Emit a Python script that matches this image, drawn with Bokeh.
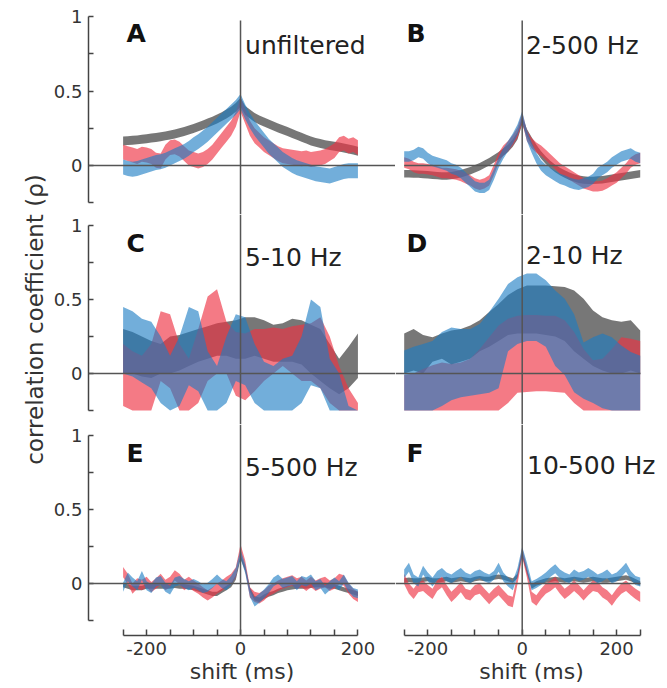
import numpy as np
from bokeh.plotting import figure
from bokeh.layouts import row, column
from bokeh.models import Range1d, Span, Label, FixedTicker, LinearAxis
from bokeh.embed import file_html
from bokeh.resources import INLINE

# ---------------- data ----------------
shift10 = list(range(-250, 251, 10))
shift20 = list(range(-250, 251, 20))

A_gray = [.165, .167, .17, .172, .176, .18, .184, .188, .193, .199,
          .205, .212, .22, .228, .238, .248, .26, .272, .285, .298,
          .312, .328, .345, .365, .39, .425, .37, .345, .322, .305,
          .292, .278, .265, .252, .24, .228, .215, .202, .19, .177,
          .165, .155, .147, .14, .134, .129, .124, .118, .111, .104, .096]
A_red = [.09, .08, .07, .06, .075, .07, .06, .035, .03, .09,
         .12, .125, .11, .08, .05, .04, .03, .04, .06, .09,
         .13, .17, .21, .25, .31, .41, .33, .25, .2, .17,
         .14, .12, .1, .08, .065, .06, .055, .05, .045, .05,
         .04, .045, .05, .06, .08, .1, .14, .15, .13, .14, .12]
A_blue = [-.01, -.02, -.025, -.02, -.01, 0, .01, .02, .025, .035,
          .05, .065, .08, .095, .115, .14, .16, .185, .21, .24,
          .27, .3, .33, .36, .39, .43, .36, .3, .25, .21,
          .17, .13, .1, .07, .04, .02, 0, -.015, -.025, -.035,
          -.045, -.055, -.06, -.065, -.07, -.06, -.05, -.04, -.035, -.035, -.035]
A_sem = {"gray": .03, "red": .05, "blue": .05}

B_gray = [-.055, -.055, -.057, -.058, -.06, -.062, -.065, -.068, -.07, -.07,
          -.068, -.062, -.055, -.045, -.035, -.022, -.008, .008, .025, .045,
          .065, .09, .115, .15, .2, .3, .22, .165, .115, .07,
          .035, .005, -.02, -.04, -.057, -.072, -.083, -.092, -.098, -.1,
          -.1, -.098, -.095, -.09, -.085, -.08, -.075, -.07, -.065, -.06, -.055]
B_red = [.02, .01, -.01, -.02, -.02, -.025, -.03, -.04, -.05, -.05,
         -.055, -.06, -.07, -.085, -.1, -.12, -.13, -.12, -.1, -.03,
         .05, .1, .13, .17, .22, .32, .2, .15, .12, .1,
         .07, .04, .01, -.02, -.04, -.06, -.08, -.1, -.12, -.13,
         -.14, -.14, -.135, -.12, -.1, -.08, -.05, -.02, .02, .04, .05]
B_blue = [.06, .06, .07, .09, .08, .05, .03, .02, .01, 0,
          -.02, -.03, -.05, -.08, -.11, -.14, -.15, -.15, -.13, -.06,
          .02, .08, .13, .18, .24, .33, .2, .12, .05, 0,
          -.03, -.05, -.07, -.09, -.1, -.115, -.125, -.13, -.12, -.11,
          -.09, -.05, -.03, -.01, .02, .04, .06, .07, .08, .06, .05]
B_sem = {"gray": .025, "red": .035, "blue": .035}

C_gray_lo = [0, 0, -.02, -.03, 0, 0, .02, .05, .08, .1, .12, .12, .1, .1, .12, .1, .08, .08, .08, .06, 0, -.05, -.1, -.14, -.1, -.03]
C_gray_hi = [.3, .28, .25, .22, .2, .25, .26, .28, .3, .32, .34, .35, .36, .38, .38, .36, .33, .34, .37, .36, .33, .3, .2, .1, .18, .27]
C_red_lo = [-.22, -.25, -.25, -.25, -.05, -.1, -.25, -.25, -.2, -.05, 0, 0, -.15, -.18, -.12, -.05, 0, .05, 0, -.05, -.05, -.1, -.2, -.25, -.25, -.25]
C_red_hi = [.2, .15, .12, .2, .42, .4, .2, .1, .3, .52, .57, .35, .28, .27, .3, .3, .31, .3, .32, .33, .34, .38, .25, .05, -.1, -.2]
C_blue_lo = [0, -.02, -.06, -.1, -.2, -.25, -.22, -.08, -.12, -.25, -.25, -.2, -.05, -.08, -.2, -.25, -.25, -.25, -.25, -.2, -.08, -.1, -.25, -.25, -.25, -.25]
C_blue_hi = [.45, .42, .37, .35, .25, .12, .25, .45, .42, .15, .05, .25, .4, .38, .2, .08, .05, .1, .12, .25, .5, .45, .1, 0, -.22, -.25]

D_gray_lo = [0, .02, 0, .08, .1, .06, .08, .1, .15, .18, .22, .26, .27, .27, .27, .26, .25, .22, .15, .1, .05, .02, 0, 0, .02, 0]
D_gray_hi = [.27, .3, .26, .245, .27, .29, .3, .325, .36, .415, .47, .53, .57, .595, .595, .595, .59, .585, .56, .505, .425, .38, .36, .35, .36, .29]
D_red_lo = [-.25, -.25, -.25, -.25, -.25, -.25, -.25, -.25, -.25, -.25, -.25, -.2, -.13, -.125, -.12, -.12, -.125, -.13, -.2, -.25, -.25, -.25, -.25, -.25, -.25, -.25]
D_red_hi = [-.01, 0, .03, .055, .075, .065, .075, .1, .165, .245, .325, .37, .39, .395, .395, .39, .39, .36, .28, .165, .09, .1, .165, .245, .235, .22]
D_blue_lo = [-.25, -.25, -.25, -.25, -.22, -.18, -.16, -.15, -.14, -.13, -.1, .15, .2, .22, .22, .18, .05, -.01, -.126, -.17, -.2, -.235, -.25, -.25, -.25, -.25]
D_blue_hi = [.155, .18, .2, .22, .28, .31, .3, .3, .335, .415, .505, .605, .65, .675, .675, .63, .56, .505, .4, .21, .245, .27, .245, .19, .145, .12]

E_gray = [-.01, -.02, -.03, -.03, -.03, -.02, -.02, -.02, -.02, -.02,
          -.02, -.015, -.02, -.02, -.025, -.03, -.04, -.05, -.06, -.07,
          -.07, -.05, -.03, -.01, .04, .18, .1, -.04, -.1, -.11,
          -.09, -.075, -.065, -.05, -.04, -.03, -.025, -.02, -.02, -.02,
          -.015, -.01, -.01, -.01, -.02, -.02, -.03, -.04, -.05, -.06, -.07]
E_red = [.077, .03, -.035, 0, -.01, .01, -.025, 0, .03, -.01,
         .01, .055, .03, -.01, .01, -.015, -.035, -.06, -.08, -.06,
         -.035, -.015, .01, .03, .075, .23, .12, -.06, -.09, -.1,
         -.08, -.05, -.035, -.015, 0, .01, .02, 0, .01, -.015,
         .01, -.015, 0, .01, -.015, 0, .03, .02, -.035, -.07, -.09]
E_blue = [-.025, .045, .01, -.015, .055, -.015, -.035, .01, .02, -.025,
          -.045, .01, .02, 0, -.015, 0, -.015, -.035, -.025, 0,
          .03, 0, -.015, .02, .075, .2, .1, -.06, -.125, -.1,
          -.07, -.035, .01, .03, 0, .01, .02, -.015, .02, .01,
          .03, -.015, 0, -.045, -.015, .01, -.015, .03, -.025, -.06, -.07]
E_sem = {"gray": .015, "red": .035, "blue": .03}

F_gray = [.02, .025, .02, .02, .025, .03, .02, .02, .025, .03,
          .02, .025, .03, .025, .02, .03, .035, .03, .03, .04,
          .045, .04, .03, .02, .05, .2, .08, -.02, 0, .01,
          .02, .025, .03, .025, .02, .025, .03, .025, .02, .025,
          .03, .025, .02, .02, .025, .03, .035, .04, .03, .015, 0]
F_red = [.03, -.035, -.07, -.025, -.015, -.045, -.07, -.015, .01, -.045,
         -.09, -.06, -.025, -.07, -.08, -.045, -.035, -.07, -.105, -.07,
         -.045, -.08, -.115, -.125, .03, .21, .075, -.09, -.115, -.07,
         -.035, -.015, .01, -.035, -.07, -.045, -.015, -.045, -.08, -.045,
         -.015, -.025, -.06, -.08, -.115, -.07, -.035, -.015, -.045, -.07, -.09]
F_blue = [.065, .11, .03, .01, .09, .045, .01, .055, .075, .045,
          .03, .055, .075, .045, .03, .055, .065, .045, .03, .055,
          .11, .045, .01, -.015, .075, .22, .11, -.015, 0, .02,
          .045, .075, .1, .065, .045, .03, .065, .045, .055, .075,
          .055, .03, .045, .065, .03, .045, .075, .11, .055, .02, .01]
F_sem = {"gray": .015, "red": .035, "blue": .03}

panel_letters = ["A", "B", "C", "D", "E", "F"]
panel_titles = ["unfiltered", "2-500 Hz", "5-10 Hz", "2-10 Hz", "5-500 Hz", "10-500 Hz"]
y_title = "correlation coefficient (\u03c1)"
x_title = "shift (ms)"
y_ticks = [-0.25, 0, 0.25, 0.5, 0.75, 1]
y_tick_labels = {-0.25: "", 0: "0", 0.25: "", 0.5: "0.5", 0.75: "", 1: "1"}
x_ticks = list(range(-250, 251, 50))
x_labels_left = {-200: "-200", 0: "0", 250: "200"}
x_labels_right = {-200: "-200", 0: "0", 200: "200"}

# ---------------- style / layout ----------------
FONT = "DejaVu Sans"
COLORS = {"gray": ("#555555", 0.8), "red": ("#ee3344", 0.65), "blue": ("#1c7dc4", 0.62)}
AX = "#444444"
TXT = "#333333"
LINE = "#555555"

STRIP_W = 50
LEFT_X = (-323.7, 330.0)
RIGHT_X = (-268.4, 307.8)
ROW_Y = [(-0.3289, 1.0403), (-0.3446, 1.0743), (-0.3514, 1.0743)]
ROW_H = [214, 210, 264]
ROW_TOP = [10, 0, 0]
ROW_BOT = [0, 0, 53]


def make_fig(col, r):
    left = col == 0
    p = figure(width=395 - STRIP_W if left else 272, height=ROW_H[r],
               x_range=Range1d(*(LEFT_X if left else RIGHT_X)),
               y_range=Range1d(*ROW_Y[r]),
               x_axis_location=None, y_axis_location=None,
               output_backend="svg", toolbar_location=None,
               min_border_left=86 - STRIP_W if left else 0, min_border_right=0,
               min_border_top=ROW_TOP[r], min_border_bottom=ROW_BOT[r])
    p.outline_line_color = None
    p.xgrid.visible = False
    p.ygrid.visible = False
    p.background_fill_color = "white"
    p.border_fill_color = "white"
    if left:
        yax = LinearAxis(ticker=FixedTicker(ticks=y_ticks), bounds=(-0.25, 1),
                         major_label_overrides=y_tick_labels,
                         major_tick_in=5, major_tick_out=0, minor_tick_line_color=None,
                         axis_line_color=AX, axis_line_width=1.5,
                         major_tick_line_color=AX, major_tick_line_width=1.5,
                         major_label_text_font=FONT, major_label_text_font_size="18px",
                         major_label_text_color=TXT, major_label_standoff=6)
        p.add_layout(yax, "left")
    if r == 2:
        overrides = {t: "" for t in x_ticks}
        overrides.update(x_labels_left if left else x_labels_right)
        xax = LinearAxis(ticker=FixedTicker(ticks=x_ticks), bounds=(-250, 250),
                         major_label_overrides=overrides,
                         major_tick_in=6, major_tick_out=0, minor_tick_line_color=None,
                         axis_line_color=AX, axis_line_width=1.5,
                         major_tick_line_color=AX, major_tick_line_width=1.5,
                         major_label_text_font=FONT, major_label_text_font_size="18px",
                         major_label_text_color=TXT, major_label_standoff=6,
                         axis_label=x_title, axis_label_text_font=FONT,
                         axis_label_text_font_size="22px", axis_label_text_font_style="normal",
                         axis_label_text_color=TXT, axis_label_standoff=1)
        p.add_layout(xax, "below")
    return p


def bands_center(p, x, series, sem):
    for name, vals in series:
        c = np.array(vals, dtype=float)
        col, a = COLORS[name]
        p.varea(x=x, y1=c - sem[name], y2=c + sem[name], fill_color=col, fill_alpha=a)


def bands_bounds(p, x, series):
    for name, lo, hi in series:
        col, a = COLORS[name]
        p.varea(x=x, y1=lo, y2=hi, fill_color=col, fill_alpha=a)


figs = [[make_fig(c, r) for c in range(2)] for r in range(3)]

bands_center(figs[0][0], shift10, [("gray", A_gray), ("red", A_red), ("blue", A_blue)], A_sem)
bands_center(figs[0][1], shift10, [("gray", B_gray), ("red", B_red), ("blue", B_blue)], B_sem)
bands_bounds(figs[1][0], shift20, [("gray", C_gray_lo, C_gray_hi), ("red", C_red_lo, C_red_hi), ("blue", C_blue_lo, C_blue_hi)])
bands_bounds(figs[1][1], shift20, [("gray", D_gray_lo, D_gray_hi), ("red", D_red_lo, D_red_hi), ("blue", D_blue_lo, D_blue_hi)])
bands_center(figs[2][0], shift10, [("gray", E_gray), ("red", E_red), ("blue", E_blue)], E_sem)
bands_center(figs[2][1], shift10, [("gray", F_gray), ("red", F_red), ("blue", F_blue)], F_sem)

# reference lines (zero shift / zero correlation)
for r in range(3):
    for c in range(2):
        p = figs[r][c]
        if r == 0:
            p.segment(x0=0, y0=0.973, x1=0, y1=ROW_Y[0][0], line_color=LINE, line_width=1.5)
        else:
            p.add_layout(Span(location=0, dimension="height", line_color=LINE, line_width=1.5))
        if c == 1:
            x0 = -250 if r == 0 else RIGHT_X[0]
            p.segment(x0=x0, y0=0, x1=250.6, y1=0, line_color=LINE, line_width=1.5)
        else:
            p.add_layout(Span(location=0, dimension="width", line_color=LINE, line_width=1.5))

# panel letters and filter labels
letter_y = [0.884, 0.876, 0.876]
title_x = [[12.7, 11.2], [12.7, 11.2], [12.7, 13.3]]
title_y = [[0.803, 0.803], [0.781, 0.795], [0.781, 0.795]]
for r in range(3):
    for c in range(2):
        p = figs[r][c]
        i = r * 2 + c
        p.add_layout(Label(x=-243 if c == 0 else -245, y=letter_y[r], text=panel_letters[i],
                           text_font=FONT, text_font_size="25px", text_font_style="bold",
                           text_color="#111111", text_baseline="alphabetic", text_align="left"))
        p.add_layout(Label(x=title_x[r][c] - 3, y=title_y[r][c], text=panel_titles[i],
                           text_font=FONT, text_font_size="25px", text_color="#222222",
                           text_baseline="alphabetic", text_align="left"))

# shared y-axis title in its own strip
lab = figure(width=STRIP_W, height=688, x_range=Range1d(0, STRIP_W), y_range=Range1d(0, 688),
             x_axis_location=None, y_axis_location=None, output_backend="svg",
             toolbar_location=None, min_border=0)
lab.outline_line_color = None
lab.xgrid.visible = False
lab.ygrid.visible = False
lab.add_layout(Label(x=34, y=688 - 319, text=y_title, angle=np.pi / 2,
                     text_font=FONT, text_font_size="23px", text_color=TXT,
                     text_align="center", text_baseline="middle"))

layout = row(lab, column(row(figs[0][0], figs[0][1]),
                         row(figs[1][0], figs[1][1]),
                         row(figs[2][0], figs[2][1])))
open("out.html", "w").write(file_html(layout, INLINE))
